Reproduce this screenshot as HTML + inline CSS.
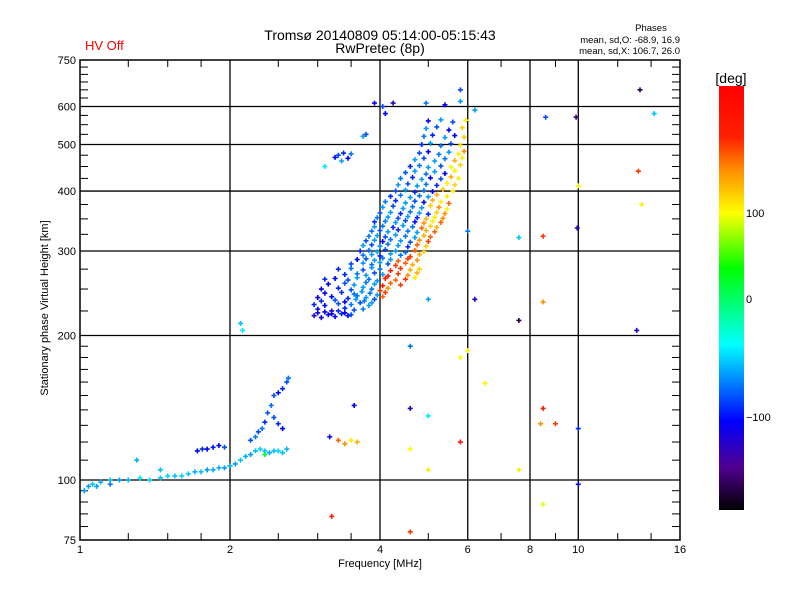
<!DOCTYPE html>
<html><head><meta charset="utf-8"><style>
body{margin:0;background:#fff;}
svg{display:block;font-family:"Liberation Sans",sans-serif;}
</style></head><body>
<svg id="c" width="800" height="600" viewBox="0 0 800 600">
<defs>
<linearGradient id="cb" x1="0" y1="1" x2="0" y2="0">
<stop offset="0" stop-color="#000000"/>
<stop offset="0.10" stop-color="#500090"/>
<stop offset="0.21" stop-color="#0000ff"/>
<stop offset="0.39" stop-color="#00ffff"/>
<stop offset="0.57" stop-color="#00ff00"/>
<stop offset="0.70" stop-color="#ffff00"/>
<stop offset="0.80" stop-color="#ff9000"/>
<stop offset="0.88" stop-color="#ff2000"/>
<stop offset="1" stop-color="#ff0000"/>
</linearGradient>
</defs>
<text x="85" y="50" fill="#ff0000" font-size="13">HV Off</text>
<text x="380" y="40" text-anchor="middle" font-size="14">Tromsø 20140809 05:14:00-05:15:43</text>
<text x="380" y="53" text-anchor="middle" font-size="14">RwPretec (8p)</text>
<text x="651" y="31" text-anchor="middle" font-size="9.5">Phases</text>
<text x="680" y="43" text-anchor="end" font-size="9.5">mean, sd,O: -68.9, 16.9</text>
<text x="680" y="54" text-anchor="end" font-size="9.5">mean, sd,X: 106.7, 26.0</text>
<g id="grid"></g>
<g id="pts"></g>
<rect x="80" y="60" width="600" height="480" fill="none" stroke="#000" stroke-width="1.5"/>
<text x="40" y="300" transform="rotate(-90 48 300)" text-anchor="middle" font-size="11">Stationary phase Virtual Height [km]</text>
<text x="380" y="567" text-anchor="middle" font-size="11">Frequency [MHz]</text>
<rect x="719" y="86" width="25" height="424" fill="url(#cb)"/>
<text x="731" y="83" text-anchor="middle" font-size="14">[deg]</text>
<g id="cbt"></g>
</svg>
<script>
const xTicks=[1,2,4,6,8,10,16];
const xMinor=[1.25,1.5,1.75,2.5,3,3.5,5,7,9,12,14];
const yTicks=[75,100,200,300,400,500,600,750];
const yGrid=[100,200,300,400,500,600];
const cbTicks=[100,0,-100];
const freqs=[1.02,1.04,1.06,1.08,1.10,1.15,1.2,1.25,1.32,1.38,1.45,1.5,1.55,1.6,1.65,1.7,1.75,1.8,1.85,1.9,1.95,2.0,2.05,2.1,2.15,2.2,
1.72,1.76,1.8,1.85,1.9,1.95,2.25,2.3,2.35,2.4,2.45,2.5,2.55,2.6,2.35,
2.2,2.25,2.28,2.32,2.35,2.38,2.42,2.45,2.5,2.55,2.6,2.62,2.5,2.55,2.45,1.3,1.45,1.15,2.1,2.12,
2.95,3.05,3.15,3.25,3.35,3.45, 3.0,3.2,3.4,3.55,3.7, 2.95,3.1,3.3,3.5,3.65,3.8, 3.0,3.2,3.45,3.6,3.75,3.9,4.05,
3.05,3.3,3.5,3.7,3.85,4.0,4.15, 3.1,3.25,3.45,3.6,3.8,3.95,4.1,4.3,4.5,4.7, 3.3,3.5,3.7,3.85,4.0,4.2,4.4,4.6,4.8,
3.6,3.75,3.9,4.05,4.2,4.35,4.55,4.75, 3.65,3.8,3.95,4.1,4.3,4.5,4.7,4.9, 3.75,3.9,4.05,4.2,4.4,4.6,4.8,5.0,
3.85,4.0,4.15,4.35,4.55,4.75,4.95,5.15, 3.9,4.1,4.3,4.5,4.7,4.9,5.1,5.3, 4.0,4.2,4.4,4.6,4.8,5.0,5.2,5.4,
4.1,4.3,4.5,4.7,4.9,5.1,5.3,5.5, 4.3,4.5,4.7,4.9,5.1,5.35,5.6, 4.4,4.65,4.85,5.05,5.3,5.55,5.75,
4.6,4.8,5.0,5.3,5.55,5.8, 4.8,5.0,5.25,5.5,5.75,5.9, 4.9,5.1,5.4,5.65,5.9, 5.0,5.3,5.6,5.95, 4.95,5.4,5.8, 5.8,
3.25,3.3,3.38,3.45,3.35,3.5,3.7,3.75,3.9,4.05,4.1,4.25,3.1,
13.3,14.2,13.2,13.4,13.1,9.9,8.6,9.95,10,7.6,7.6,8.5,8.5,6.2,6.0,6.2,6.5,5.8,5.8,8.5,9.0,8.4,10,10,8.5,7.6,
4.6,4.6,5.0,4.6,5.0,4.6,3.2,3.17,3.55,3.4,3.5,3.6,3.3,5.0,6.0];
const heights=[95,97,98,97,99,100,100,100,101,100,101,102,102,102,103,104,104,105,105,106,106,107,108,110,112,113,
115,116,116,117,118,117,115,116,115,114,115,115,114,116,113,
121,123,126,128,132,138,143,150,152,155,160,163,131,128,135,110,105,98,212,205,
220,218,221,219,222,220, 227,225,228,226,227, 232,231,233,232,234,231, 240,241,239,242,240,238,241,
250,251,249,252,250,248,251, 262,263,261,264,262,260,263,261,262,264, 275,276,274,277,275,273,276,274,275,
288,289,287,290,288,286,289,287, 300,301,299,302,300,298,301,299, 315,316,314,317,315,313,316,314,
330,331,329,332,330,328,331,329, 345,346,344,347,345,343,346,344, 360,361,359,362,360,358,361,359,
380,382,378,381,379,383,380,377, 400,402,398,401,399,403,400, 425,427,423,426,424,428,425,
450,452,448,451,449,453, 480,483,477,482,478,484, 520,523,517,522,518, 560,563,557,562, 610,605,615, 650,
470,475,480,468,462,478,520,525,610,600,580,610,450,
650,580,440,375,205,570,570,335,410,320,215,322,235,590,330,238,159,180,120,141,131,131,128,98,89,105,
190,141,136,116,105,78,84,123,143,119,121,120,121,238,186];
const phases=[-60,-60,-50,-60,-55,-50,-60,-55,-40,-45,-50,-45,-50,-45,-50,-55,-50,-60,-55,-55,-60,-55,-60,-50,-55,-60,
-100,-90,-100,-95,-100,-80,-50,-45,-50,-55,-50,-45,-50,-55,20,
-80,-70,-80,-70,-90,-80,-70,-80,-100,-90,-80,-70,-90,-100,-80,-55,-50,-70,-50,-40,
-110,-110,-100,-100,-90,-100, -100,-110,-90,-80,-70, -90,-100,-80,-70,-80,-60, -110,-100,-90,-70,-60,-80,140,
-100,-90,-80,-60,-70,150,130, -90,-100,-80,-60,-70,-60,160,140,150,100, -90,-70,-80,-60,-70,155,150,120,110,
-100,-80,-60,-70,-60,140,150,130, -90,-70,-60,-80,-60,-70,140,110, -80,-60,-100,-70,-60,-80,130,150,
-70,-80,-60,-90,-70,-60,120,140, -90,-70,-60,-80,-100,130,100,140, -80,-60,-90,-70,-60,-90,110,130,
-70,-90,-60,-80,-100,120,100,140, -80,-60,-90,-70,-100,110,100, -70,-90,-60,-100,-80,120,100,
-90,-70,-60,-80,90,110, -80,-100,-70,-60,100,130, -70,-90,-60,-100,110, -100,-60,-80,100, -70,-100,-60, -80,
-100,-80,-90,-100,-60,-70,-60,-80,-100,-80,-100,-120,-40,
-160,-50,150,100,-120,-150,-80,-120,90,-50,-160,150,130,-60,-70,-120,100,95,160,160,150,130,-90,-100,90,100,
-70,-120,-40,95,100,150,160,-100,-100,130,100,120,140,-60,100];
const blobF=[3.0,3.1,3.2,3.3,3.4,3.5, 3.05,3.25,3.4,3.58,3.72,3.85, 3.1,3.35,3.55,3.68,3.82,3.95,4.1,
3.15,3.4,3.55,3.75,3.9,4.05,4.2,4.4, 3.4,3.6,3.75,3.9,4.05,4.15,4.35,4.55,4.75, 3.5,3.7,3.85,4.0,4.15,4.3,4.5,4.65,
3.7,3.85,4.0,4.2,4.4,4.6,4.8, 3.7,3.85,4.0,4.15,4.35,4.55,4.75,4.95, 3.8,3.95,4.1,4.3,4.5,4.7,4.9,5.05,
3.9,4.05,4.25,4.45,4.65,4.85,5.05,5.2, 3.95,4.15,4.35,4.55,4.75,4.95,5.15,5.35, 4.05,4.25,4.45,4.65,4.85,5.05,5.25,5.45,
4.2,4.4,4.6,4.8,5.0,5.2,5.45, 4.35,4.55,4.75,4.95,5.2,5.45,5.65, 4.5,4.7,4.95,5.15,5.4,5.65,
4.7,4.9,5.15,5.4,5.65,5.85, 4.85,5.05,5.3,5.55,5.8, 4.95,5.2,5.5,5.85];
const blobH=[223,224,222,225,223,221, 236,237,235,238,236,234, 245,246,244,247,245,243,246,
256,257,255,258,256,254,257,255, 268,269,267,270,268,266,269,267,270, 282,283,281,284,282,280,283,281,
294,295,293,296,294,292,295, 308,309,307,310,308,306,309,307, 322,323,321,324,322,320,323,321,
337,338,336,339,337,335,338,336, 352,353,351,354,352,350,353,351, 370,372,368,371,369,373,370,367,
390,392,388,391,389,393,390, 412,414,410,413,411,415,412, 437,440,434,439,435,441,
465,468,462,467,463,469, 500,503,497,502,498, 540,544,536,542];
const blobP=[-110,-100,-110,-90,-100,-80, -90,-80,-100,-60,-70,-60, -100,-90,-70,-60,-70,-60,150,
-100,-80,-60,-70,-60,160,140,150, -90,-70,-60,-80,-60,155,150,130,120, -80,-60,-70,-60,-80,150,140,120,
-70,-60,-90,-60,-70,150,120, -60,-80,-60,-70,-60,-90,140,110, -70,-60,-80,-60,-70,-60,120,140,
-60,-70,-90,-60,-70,140,110,120, -70,-60,-80,-60,-90,120,100,130, -60,-80,-60,-70,-60,110,130,100,
-90,-70,-60,-70,-60,120,100, -60,-80,-60,-70,-90,100,110, -80,-60,-70,-60,-100,100,
-60,-80,-60,-70,120,100, -90,-60,-70,-80,100, -60,-80,-100,110];

const NS='http://www.w3.org/2000/svg';
function X(f){return 80+150*Math.log2(f);}
function Y(h){return 540-480*Math.log10(h/75);}
function CB(v){return v>=0?299-v*0.86:299-v*1.18;}
const stops=[[-180,[0,0,0]],[-140,[80,0,144]],[-100,[0,0,255]],[-35,[0,255,255]],[30,[0,255,0]],[95,[255,255,0]],[130,[255,144,0]],[155,[255,32,0]],[180,[255,0,0]]];
function col(v){
  for(let i=0;i<stops.length-1;i++){const a=stops[i],b=stops[i+1];
    if(v<=b[0]){const t=Math.max(0,(v-a[0])/(b[0]-a[0]));
      return 'rgb('+a[1].map((c,k)=>Math.round(c+(b[1][k]-c)*t)).join(',')+')';}}
  return 'rgb(255,0,0)';}
function el(t,a,p){const e=document.createElementNS(NS,t);for(const k in a)e.setAttribute(k,a[k]);p.appendChild(e);return e;}
const grid=document.getElementById('grid');
xTicks.forEach(f=>{
  const x=X(f);
  if(f>1&&f<16){const l=el('line',{x1:x,y1:60,x2:x,y2:540,stroke:'#000','stroke-width':1.3},grid);
  
  }
  const t=el('text',{x:x,y:553,'text-anchor':'middle','font-size':11},grid);t.textContent=f;
  
  
});
xMinor.forEach(f=>{const x=X(f);
  el('line',{x1:x,y1:540,x2:x,y2:533,stroke:'#000'},grid);
  el('line',{x1:x,y1:60,x2:x,y2:67,stroke:'#000'},grid);});
yGrid.forEach(h=>{const l=el('line',{x1:80,y1:Y(h),x2:680,y2:Y(h),stroke:'#000','stroke-width':1.3},grid);
  
  });
yTicks.forEach(h=>{const t=el('text',{x:76,y:Y(h)+4,'text-anchor':'end','font-size':11},grid);t.textContent=h;
  
  });
for(let h=75;h<=750;h+=(h<100?5:(h<200?10:25))){
  if(yTicks.indexOf(h)<0){const y=Y(h);
    el('line',{x1:80,y1:y,x2:88,y2:y,stroke:'#000'},grid);
    el('line',{x1:680,y1:y,x2:672,y2:y,stroke:'#000'},grid);}}
const pts=document.getElementById('pts');
function plot(F,H,P){
  for(let i=0;i<F.length;i++){
    const x=X(F[i]),y=Y(H[i]),c=col(P[i]);
    const p=el('path',{d:'M'+(x-2.5)+' '+y+'h5M'+x+' '+(y-2.5)+'v5',stroke:c,'stroke-width':1.6},pts);
    
    
  }
}
plot(freqs,heights,phases);
plot(blobF,blobH,blobP);
const cbt=document.getElementById('cbt');
cbTicks.forEach(v=>{const y=CB(v);
  const t=el('text',{x:746,y:y+4,'font-size':11},cbt);t.textContent=v===-100?'\u2212100':v;
  
  });
</script>
</body></html>
